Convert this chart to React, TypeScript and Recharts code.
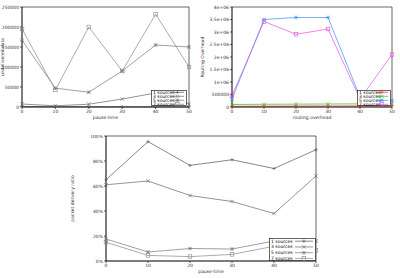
import React from "react"
import {
    LineChart,
    Line,
    XAxis,
    YAxis,
    ReferenceArea,
} from "recharts"

const pauseTimes = [0, 10, 20, 30, 40, 50]
const sourceLabels = ["1 sources", "3 sources", "5 sources", "7 sources"]
const markerShapes = ["plus", "cross", "star", "square"]

const undelivered1 = [1500, 800, 600, 500, 400, 300]
const undelivered3 = [7500, 3000, 7000, 20000, 35000, 7000]
const undelivered5 = [167000, 47000, 37000, 90000, 155000, 150000]
const undelivered7 = [195000, 42500, 200000, 90000, 232000, 100000]
const undeliveredTicks = [0, 50000, 100000, 150000, 200000, 250000]

const overhead1 = [30000, 35000, 38000, 40000, 42000, 45000]
const overhead3 = [100000, 110000, 115000, 120000, 125000, 130000]
const overhead5 = [320000, 3500000, 3580000, 3580000, 400000, 250000]
const overhead7 = [450000, 3420000, 2910000, 3120000, 320000, 2100000]
const overheadTicks = [0, 500000, 1000000, 1500000, 2000000, 2500000, 3000000, 3500000, 4000000]
const overheadTickLabels = ["0", "500000", "1e+06", "1.5e+06", "2e+06", "2.5e+06", "3e+06", "3.5e+06", "4e+06"]

const delivery1 = [65, 95.5, 76.5, 81, 74, 89]
const delivery3 = [61, 64, 52.4, 47.6, 38, 68]
const delivery5 = [17.6, 7.2, 10, 9.6, 16, 16]
const delivery7 = [15, 4.5, 3.5, 5.3, 11.8, 8.5]
const deliveryTicks = [0, 20, 40, 60, 80, 100]

const grayColors = ["#555", "#666", "#777", "#888"]
const gnuColors = ["#ff2020", "#20c020", "#3a8ff0", "#e050e0"]

const keys = ["s1", "s3", "s5", "s7"]

function rows(a: number[], b: number[], c: number[], d: number[]) {
    return pauseTimes.map((t, i) => ({ t, s1: a[i], s3: b[i], s5: c[i], s7: d[i] }))
}

const undeliveredData = rows(undelivered1, undelivered3, undelivered5, undelivered7)
const overheadData = rows(overhead1, overhead3, overhead5, overhead7)
const deliveryData = rows(delivery1, delivery3, delivery5, delivery7)

const font = { fontSize: 4.5, fontFamily: "DejaVu Sans", fill: "#333" }

function Glyph({ cx, cy, shape, color }: any) {
    const r = 1.8
    if (cx == null || cy == null) return <g />
    if (shape === "plus")
        return (
            <g stroke={color} strokeWidth={0.6}>
                <line x1={cx - r} y1={cy} x2={cx + r} y2={cy} />
                <line x1={cx} y1={cy - r} x2={cx} y2={cy + r} />
            </g>
        )
    if (shape === "cross")
        return (
            <g stroke={color} strokeWidth={0.6}>
                <line x1={cx - r} y1={cy - r} x2={cx + r} y2={cy + r} />
                <line x1={cx - r} y1={cy + r} x2={cx + r} y2={cy - r} />
            </g>
        )
    if (shape === "star")
        return (
            <g stroke={color} strokeWidth={0.6}>
                <line x1={cx - r} y1={cy} x2={cx + r} y2={cy} />
                <line x1={cx} y1={cy - r} x2={cx} y2={cy + r} />
                <line x1={cx - r} y1={cy - r} x2={cx + r} y2={cy + r} />
                <line x1={cx - r} y1={cy + r} x2={cx + r} y2={cy - r} />
            </g>
        )
    return (
        <rect x={cx - r} y={cy - r} width={r * 2} height={r * 2} fill="none" stroke={color} strokeWidth={0.6} />
    )
}

function Key({ colors, box }: any) {
    const rowH = box.h / 4
    return (
        <svg
            width={box.w}
            height={box.h}
            style={{ position: "absolute", left: box.x, top: box.y }}
        >
            <rect x={0.5} y={0.5} width={box.w - 1} height={box.h - 1} fill="#fff" stroke="#000" strokeWidth={0.6} />
            {sourceLabels.map((label, i) => {
                const cy = rowH * i + rowH / 2 + 0.3
                return (
                    <g key={label}>
                        <text x={2} y={cy + 1.5} {...font} fill="#000">
                            {label}
                        </text>
                        <line x1={box.w * 0.55} y1={cy} x2={box.w - 3} y2={cy} stroke={colors[i]} strokeWidth={0.7} />
                        <Glyph cx={(box.w * 0.55 + box.w - 3) / 2} cy={cy} shape={markerShapes[i]} color={colors[i]} />
                    </g>
                )
            })}
        </svg>
    )
}

function GnuChart(props: any) {
    const { data, colors, yTicks, yFormat, yMax, xLabel, yLabel, left, top, width, height, margin, yWidth, xHeight, xLabelOffset, box } = props
    return (
        <div style={{ position: "absolute", left, top, width, height }}>
            <LineChart width={width} height={height} data={data} margin={margin}>
                <XAxis
                    type="number"
                    dataKey="t"
                    domain={[0, 50]}
                    ticks={pauseTimes}
                    tick={font}
                    tickSize={2}
                    tickMargin={1}
                    height={xHeight}
                    stroke="#000"
                    strokeWidth={0.6}
                    label={{ value: xLabel, position: "insideBottom", offset: xLabelOffset, ...font, style: { fill: "#333" } }}
                />
                <YAxis
                    type="number"
                    domain={[0, yMax]}
                    ticks={yTicks}
                    tickFormatter={yFormat}
                    tick={font}
                    tickSize={2}
                    tickMargin={1}
                    width={yWidth}
                    stroke="#000"
                    strokeWidth={0.6}
                    interval={0}
                    label={{ value: yLabel, angle: -90, position: "insideLeft", offset: 2, ...font, style: { textAnchor: "middle", fill: "#333" } }}
                />
                <ReferenceArea x1={0} x2={50} y1={0} y2={yMax} fill="none" stroke="#000" strokeWidth={0.6} strokeOpacity={1} />
                {keys.map((k, i) => (
                    <Line
                        key={k}
                        dataKey={k}
                        stroke={colors[i]}
                        strokeWidth={0.7}
                        isAnimationActive={false}
                        dot={(p: any) => <Glyph key={k + p.index} cx={p.cx} cy={p.cy} shape={markerShapes[i]} color={colors[i]} />}
                    />
                ))}
            </LineChart>
            <Key colors={colors} box={box} />
        </div>
    )
}

export default function App() {
    return (
        <div style={{ position: "fixed", left: 0, top: 0, width: 400, height: 278, background: "#fff", overflow: "hidden" }}>
            <GnuChart
                data={undeliveredData}
                colors={grayColors}
                yTicks={undeliveredTicks}
                yFormat={(v: number) => String(v)}
                yMax={250000}
                xLabel="pause-time"
                yLabel="undelivered data"
                left={0}
                top={0}
                width={200}
                height={135}
                margin={{ top: 7, right: 11, bottom: 0, left: 0 }}
                yWidth={22}
                xHeight={28}
                xLabelOffset={16}
                box={{ x: 151, y: 90, w: 36, h: 16 }}
            />
            <GnuChart
                data={overheadData}
                colors={gnuColors}
                yTicks={overheadTicks}
                yFormat={(v: number) => overheadTickLabels[overheadTicks.indexOf(v)]}
                yMax={4000000}
                xLabel="routing overhead"
                yLabel="Routing Overhead"
                left={200}
                top={0}
                width={200}
                height={135}
                margin={{ top: 7, right: 8, bottom: 0, left: 0 }}
                yWidth={32}
                xHeight={28}
                xLabelOffset={16}
                box={{ x: 157, y: 90, w: 34, h: 16 }}
            />
            <GnuChart
                data={deliveryData}
                colors={grayColors}
                yTicks={deliveryTicks}
                yFormat={(v: number) => v + "%"}
                yMax={100}
                xLabel="pause-time"
                yLabel="packet delivery ratio"
                left={70}
                top={135}
                width={260}
                height={143}
                margin={{ top: 1, right: 14, bottom: 0, left: 0 }}
                yWidth={36}
                xHeight={17}
                xLabelOffset={5}
                box={{ x: 199, y: 103, w: 47, h: 23 }}
            />
        </div>
    )
}
